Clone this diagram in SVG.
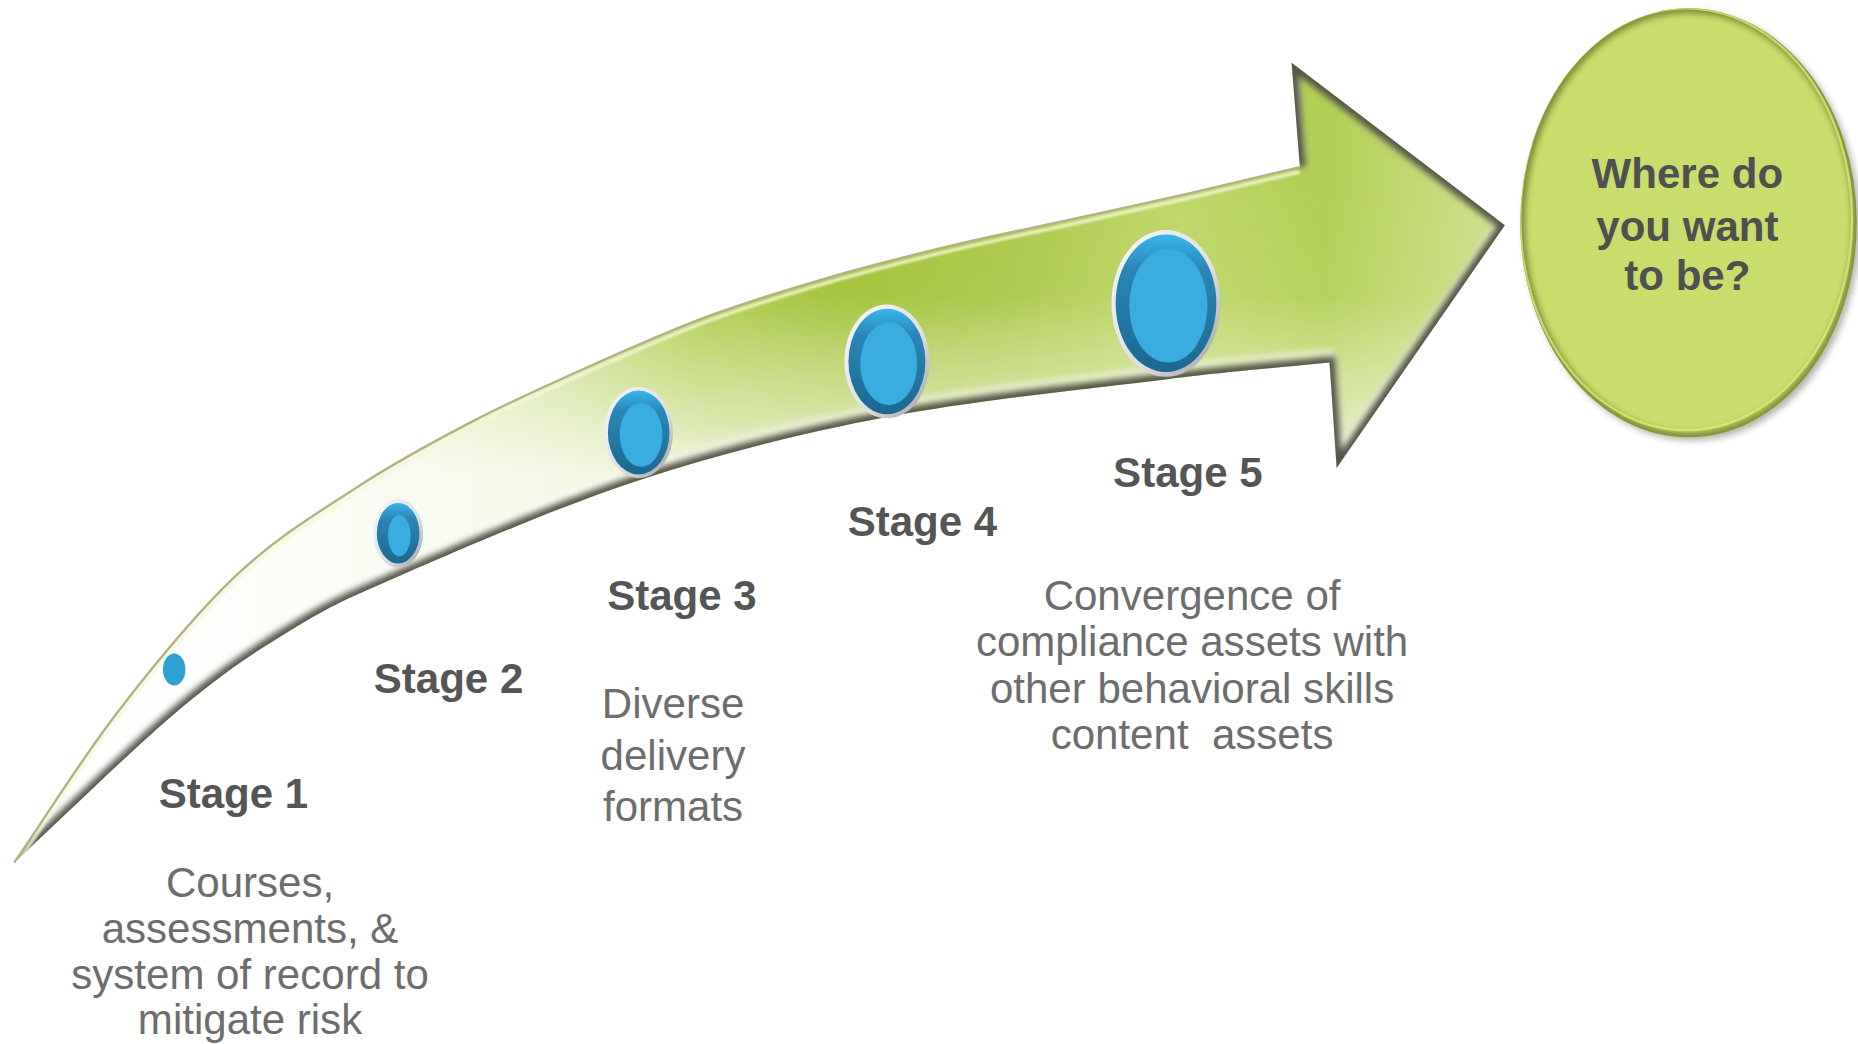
<svg xmlns="http://www.w3.org/2000/svg" width="1858" height="1044" viewBox="0 0 1858 1044">
<defs>
<style>
.lbl{font-family:"Liberation Sans",Arial,sans-serif;font-weight:bold;font-size:35.5px;fill:#555555;text-anchor:middle}
.desc{font-family:"Liberation Sans",Arial,sans-serif;font-size:35.5px;fill:#6d6d6d;text-anchor:middle;white-space:pre}
.goal{font-family:"Liberation Sans",Arial,sans-serif;font-weight:bold;font-size:35.5px;fill:#505050;text-anchor:middle}
.rim{fill:url(#rimG)}
.ring{fill:url(#ringG)}
.core{fill:#39ade0}
</style>
<linearGradient id="rimG" x1="0" y1="0" x2="1" y2="1">
<stop offset="0" stop-color="#f8f8f8"/><stop offset="0.6" stop-color="#dcdee0"/><stop offset="1" stop-color="#9a9ea2"/>
</linearGradient>
<linearGradient id="ringG" x1="0" y1="0" x2="0" y2="1">
<stop offset="0" stop-color="#3ab6ea"/><stop offset="0.25" stop-color="#2a86b6"/><stop offset="1" stop-color="#1c6890"/>
</linearGradient>
<linearGradient id="bandG" gradientUnits="userSpaceOnUse" x1="12" y1="0" x2="1270" y2="0">
<stop offset="0" stop-color="#ffffff"/>
<stop offset="0.14" stop-color="#f8faef"/>
<stop offset="0.25" stop-color="#e4eec0"/>
<stop offset="0.36" stop-color="#c9de84"/>
<stop offset="0.46" stop-color="#adca48"/>
<stop offset="0.56" stop-color="#a2c236"/>
<stop offset="0.66" stop-color="#abc848"/>
<stop offset="0.78" stop-color="#bed668"/>
<stop offset="0.88" stop-color="#b3cf55"/>
<stop offset="1" stop-color="#cfe190"/>
</linearGradient>
<linearGradient id="shadeG" gradientUnits="userSpaceOnUse" x1="0" y1="150" x2="0" y2="400">
<stop offset="0" stop-color="#ffffff" stop-opacity="0"/>
<stop offset="0.4" stop-color="#ffffff" stop-opacity="0.05"/>
<stop offset="1" stop-color="#ffffff" stop-opacity="0.8"/>
</linearGradient>
<path id="arrowShape" d="M12,728 C41.3,685.3 68.7,640.5 100,600 C131.3,559.5 166.7,516.3 200,485 C233.3,453.7 266.7,433.7 300,412 C333.3,390.3 366.7,372.3 400,355 C433.3,337.7 466.7,322.8 500,308 C533.3,293.2 566.7,278.3 600,266 C633.3,253.7 666.7,243.7 700,234 C733.3,224.3 766.7,216 800,208 C833.3,200 866.7,193.3 900,186 C933.3,178.7 967.2,171.5 1000,164 C1032.8,156.5 1064.7,148.7 1097,141 L1090,53 L1270,190 L1128,395 L1122,306 C1076.3,310.7 1047.3,312.3 985,320 C922.7,327.7 822.2,337.8 748,352 C673.8,366.2 608.5,382.7 540,405 C471.5,427.3 386.2,464.8 337,486 C287.8,507.2 276.2,513 245,532 C213.8,551 188.8,567.3 150,600 C111.2,632.7 58,685.3 12,728 Z"/>
<path id="upperEdge" d="M12,728 C41.3,685.3 68.7,640.5 100,600 C131.3,559.5 166.7,516.3 200,485 C233.3,453.7 266.7,433.7 300,412 C333.3,390.3 366.7,372.3 400,355 C433.3,337.7 466.7,322.8 500,308 C533.3,293.2 566.7,278.3 600,266 C633.3,253.7 666.7,243.7 700,234 C733.3,224.3 766.7,216 800,208 C833.3,200 866.7,193.3 900,186 C933.3,178.7 967.2,171.5 1000,164 C1032.8,156.5 1064.7,148.7 1097,141"/>
<path id="darkEdge" d="M12,728 C58,685.3 111.2,632.7 150,600 C188.8,567.3 213.8,551 245,532 C276.2,513 287.8,507.2 337,486 C386.2,464.8 471.5,427.3 540,405 C608.5,382.7 673.8,366.2 748,352 C822.2,337.8 922.7,327.7 985,320 C1047.3,312.3 1076.3,310.7 1122,306 L1128,395 L1270,190 L1090,53 L1097,141"/>
<clipPath id="arrowClip"><use href="#arrowShape"/></clipPath>
<clipPath id="goalClip"><ellipse cx="1425" cy="188" rx="142" ry="181"/></clipPath>
<filter id="b3" x="-20%" y="-20%" width="140%" height="140%"><feGaussianBlur stdDeviation="2.5"/></filter>
<filter id="b1" x="-20%" y="-20%" width="140%" height="140%"><feGaussianBlur stdDeviation="1"/></filter>
</defs>
<rect width="1858" height="1044" fill="#ffffff"/>
<g transform="scale(1.18495)">
<g id="connectors">
<g id="growth-arrow">
<use href="#arrowShape" fill="url(#bandG)"/>
<use href="#arrowShape" fill="url(#shadeG)"/>
<g clip-path="url(#arrowClip)">
<use href="#darkEdge" transform="translate(0,-8)" fill="none" stroke="#ffffff" stroke-width="7" opacity="0.55" filter="url(#b3)"/>
<use href="#darkEdge" fill="none" stroke="#55554a" stroke-width="10" stroke-linejoin="miter" filter="url(#b3)"/>
<use href="#upperEdge" transform="translate(0,4)" fill="none" stroke="#f3f8d6" stroke-width="3" opacity="0.85" filter="url(#b1)"/>
</g>
<use href="#upperEdge" fill="none" stroke="#b5b086" stroke-width="2"/>
</g>
</g>
<g id="stage1">
<ellipse cx="147" cy="565" rx="9.5" ry="13.5" fill="#2ea2d5"/>
<text class="lbl" x="197" y="682">Stage 1</text>
<text class="desc" x="211" y="757">Courses,</text>
<text class="desc" x="211" y="796">assessments, &amp;</text>
<text class="desc" x="211" y="835">system of record to</text>
<text class="desc" x="211" y="873">mitigate risk</text>
</g>
<g id="stage2">
<ellipse class="rim" cx="336" cy="450" rx="21" ry="29"/>
<ellipse class="ring" cx="336" cy="450" rx="18" ry="25.5"/>
<ellipse class="core" cx="337" cy="452" rx="9.5" ry="17.5"/>
<text class="lbl" x="378.5" y="585">Stage 2</text>
</g>
<g id="stage3">
<ellipse class="rim" cx="539" cy="365" rx="29" ry="38.5"/>
<ellipse class="ring" cx="539" cy="365" rx="26" ry="35.5"/>
<ellipse class="core" cx="541" cy="367" rx="18" ry="27"/>
<text class="lbl" x="575.5" y="515">Stage 3</text>
<text class="desc" x="568" y="606">Diverse</text>
<text class="desc" x="568" y="650">delivery</text>
<text class="desc" x="568" y="693">formats</text>
</g>
<g id="stage4">
<ellipse class="rim" cx="748.5" cy="305" rx="36" ry="48"/>
<ellipse class="ring" cx="748.5" cy="305" rx="32.5" ry="44.5"/>
<ellipse class="core" cx="750" cy="307" rx="24" ry="35"/>
<text class="lbl" x="778.5" y="452">Stage 4</text>
</g>
<g id="stage5">
<ellipse class="rim" cx="984" cy="256" rx="46" ry="62"/>
<ellipse class="ring" cx="984" cy="256" rx="42.5" ry="58"/>
<ellipse class="core" cx="986" cy="258" rx="33" ry="48"/>
<text class="lbl" x="1002.5" y="411">Stage 5</text>
<text class="desc" x="1006" y="515">Convergence of</text>
<text class="desc" x="1006" y="554">compliance assets with</text>
<text class="desc" x="1006" y="593">other behavioral skills</text>
<text class="desc" x="1006" y="632">content  assets</text>
</g>
<g id="goal">
<ellipse cx="1428" cy="191" rx="142" ry="181" fill="#7a7a6e" opacity="0.55" filter="url(#b3)"/>
<ellipse cx="1425" cy="188" rx="142" ry="181" fill="#c8dd6c"/>
<g clip-path="url(#goalClip)">
<ellipse cx="1425" cy="188" rx="142" ry="181" fill="none" stroke="#7c8a36" stroke-width="8" filter="url(#b3)"/>
<ellipse cx="1423" cy="185" rx="140" ry="178" fill="none" stroke="#dff07e" stroke-width="2" opacity="0.7"/>
</g>
<text class="goal" x="1424" y="159">Where do</text>
<text class="goal" x="1424" y="203">you want</text>
<text class="goal" x="1424" y="245">to be?</text>
</g>
</g>
</svg>
